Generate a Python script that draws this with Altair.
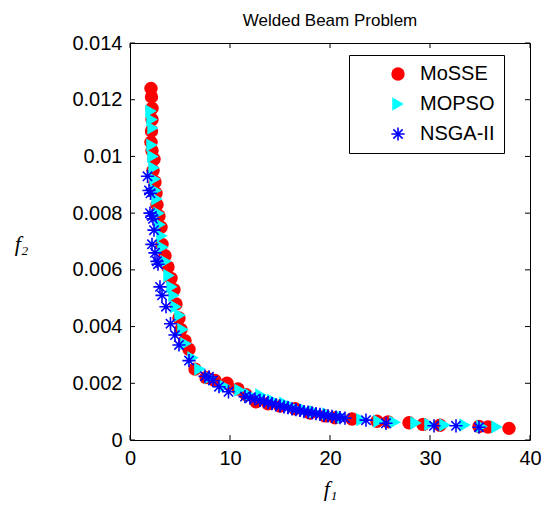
import altair as alt
import pandas as pd

methods = ["MoSSE", "MOPSO", "NSGA-II"]
colors = ["#FF0000", "#00FFFF", "#0000FF"]

mosse_f1 = [2.1, 2.15, 2.2, 2.2, 2.15, 2.1, 2.2, 2.4, 2.3, 2.5, 2.6, 2.7, 2.9, 3.1, 3.2, 3.5, 3.8, 4.1,
            4.4, 4.6, 4.9, 5.1, 5.5, 5.9, 6.5, 7.6, 8.5, 9.7, 10.8, 11.6, 12.6, 13.8, 15.0, 16.5, 18.0,
            19.5, 20.5, 22.2, 24.7, 25.8, 27.9, 29.3, 31.0, 34.9, 35.8, 37.9]
mosse_f2 = [0.0124, 0.0121, 0.0117, 0.0113, 0.0109, 0.0105, 0.0102, 0.0099, 0.0095, 0.0091, 0.0087,
            0.0083, 0.0079, 0.0075, 0.0069, 0.0065, 0.0061, 0.0057, 0.0053, 0.0048, 0.0043, 0.0039,
            0.0035, 0.0032, 0.0025, 0.0022, 0.0021, 0.0020, 0.0018, 0.0016, 0.00135, 0.00128, 0.0012,
            0.0011, 0.00095, 0.00085, 0.00078, 0.00074, 0.00066, 0.00064, 0.00061, 0.00055, 0.00052,
            0.00048, 0.00046, 0.00041]

mopso_f1 = [2.1, 2.2, 2.3, 2.2, 2.3, 2.4, 2.5, 2.6, 2.7, 2.9, 3.0, 3.2, 3.3, 3.6, 3.9, 4.2, 4.4, 4.6,
            5.0, 5.3, 5.6, 6.3, 7.0, 8.0, 9.5, 11.0, 12.0, 13.1, 14.3, 15.5, 16.3, 17.5, 18.5, 19.8,
            21.3, 23.2, 24.9, 26.5, 28.6, 30.0, 31.5, 33.5, 35.2, 36.7]
mopso_f2 = [0.0116, 0.0113, 0.0110, 0.0104, 0.0100, 0.0096, 0.0092, 0.0088, 0.0085, 0.0080, 0.0076,
            0.0072, 0.0068, 0.0063, 0.0058, 0.0054, 0.0051, 0.0047, 0.0044, 0.0039, 0.0034, 0.0029,
            0.0025, 0.0022, 0.0019, 0.00176, 0.0016, 0.00159, 0.0014, 0.0013, 0.00117, 0.00107, 0.0010,
            0.00092, 0.0008, 0.00072, 0.00066, 0.00063, 0.0006, 0.00055, 0.00053, 0.00053, 0.00048,
            0.00046]

nsga_f1 = [1.75, 1.9, 2.05, 2.0, 2.2, 2.3, 2.4, 2.2, 2.5, 2.7, 2.8, 3.0, 3.2, 3.6, 4.05, 4.5, 4.9, 5.9,
           7.5, 7.9, 8.3, 8.9, 9.85, 11.5, 12.0, 12.5, 13.0, 13.4, 13.8, 14.2, 14.6, 15.0, 15.4, 15.8,
           16.2, 16.6, 17.0, 17.4, 17.8, 18.2, 18.6, 19.0, 19.4, 19.8, 20.2, 20.6, 21.0, 21.5, 23.6,
           25.6, 30.4, 32.6, 34.9]
nsga_f2 = [0.0093, 0.0088, 0.0087, 0.0080, 0.0079, 0.0078, 0.0074, 0.0069, 0.0066, 0.0063, 0.0062,
           0.0054, 0.0051, 0.0047, 0.0041, 0.0037, 0.00335, 0.0028, 0.00225, 0.00223, 0.0021, 0.00188,
           0.0017, 0.00153, 0.00148, 0.00145, 0.0014, 0.00137, 0.00132, 0.00128, 0.00124, 0.0012,
           0.00117, 0.00114, 0.0011, 0.00107, 0.00104, 0.0010, 0.00098, 0.00096, 0.00093, 0.0009,
           0.00087, 0.00085, 0.00083, 0.00081, 0.00079, 0.00077, 0.0007, 0.00059, 0.0005, 0.0005,
           0.00045]

x_ticks = [0, 10, 20, 30, 40]
y_ticks = [0, 0.002, 0.004, 0.006, 0.008, 0.01, 0.012, 0.014]

rows = []
for name, xs, ys in [("MoSSE", mosse_f1, mosse_f2), ("MOPSO", mopso_f1, mopso_f2),
                     ("NSGA-II", nsga_f1, nsga_f2)]:
    for a, b in zip(xs, ys):
        rows.append({"method": name, "f1": a, "f2": b})
df = pd.DataFrame(rows)

W, H = 400, 397
TL = 5

ASTER = ("M-1,-0.12L1,-0.12L1,0.12L-1,0.12Z"
         "M-0.12,-1L0.12,-1L0.12,1L-0.12,1Z"
         "M-0.622,-0.792L0.792,0.622L0.622,0.792L-0.792,-0.622Z"
         "M-0.792,0.622L0.622,-0.792L0.792,-0.622L-0.622,0.792Z")

xscale = alt.Scale(domain=[0, 40], nice=False, zero=False)
yscale = alt.Scale(domain=[0, 0.014], nice=False, zero=False)

pad_sp = "\u00a0" * 12
leg = alt.Legend(orient="none", legendX=219, legendY=12, title=None,
                 labelExpr="datum.label + '" + pad_sp + "'")

points = alt.Chart(df).mark_point(filled=True, opacity=1, strokeWidth=0).encode(
    x=alt.X("f1:Q", scale=xscale,
            axis=alt.Axis(values=x_ticks, title="f\u2081", titlePadding=10, labelPadding=8,
                          labelFlush=False)),
    y=alt.Y("f2:Q", scale=yscale,
            axis=alt.Axis(values=y_ticks, format="~g", title="f\u2082", titleAngle=0,
                          titleX=-109, titleY=200, titleAlign="center", titleBaseline="middle",
                          labelPadding=8, labelFlush=False)),
    color=alt.Color("method:N", scale=alt.Scale(domain=methods, range=colors), legend=leg),
    shape=alt.Shape("method:N", scale=alt.Scale(domain=methods,
                                                range=["circle", "triangle-right", ASTER]), legend=leg),
    size=alt.Size("method:N", scale=alt.Scale(domain=methods, range=[180, 175, 150]), legend=None),
)

xt_df = pd.DataFrame({"f1": x_ticks})
yt_df = pd.DataFrame({"f2": y_ticks})

xt_bottom = alt.Chart(xt_df).mark_rule(color="black", strokeWidth=1).encode(
    x=alt.X("f1:Q", scale=xscale), y=alt.value(H), y2=alt.value(H - TL))
xt_top = alt.Chart(xt_df).mark_rule(color="black", strokeWidth=1).encode(
    x=alt.X("f1:Q", scale=xscale), y=alt.value(0), y2=alt.value(TL))
yt_left = alt.Chart(yt_df).mark_rule(color="black", strokeWidth=1).encode(
    y=alt.Y("f2:Q", scale=yscale), x=alt.value(0), x2=alt.value(TL))
yt_right = alt.Chart(yt_df).mark_rule(color="black", strokeWidth=1).encode(
    y=alt.Y("f2:Q", scale=yscale), x=alt.value(W), x2=alt.value(W - TL))

chart = alt.layer(points, xt_bottom, xt_top, yt_left, yt_right).properties(
    width=W, height=H,
    title=alt.TitleParams("Welded Beam Problem", font="Liberation Sans", fontSize=17,
                          fontWeight="normal", color="black", offset=3, frame="group",
                          anchor="middle"),
    autosize=alt.AutoSizeParams(type="none"),
    padding={"left": 122, "top": 35, "right": 11, "bottom": 66},
).configure_view(
    stroke="black", strokeWidth=1
).configure_axis(
    domain=False, ticks=False, grid=False,
    labelFont="Liberation Sans", labelFontSize=20, labelColor="black",
    titleFont="Liberation Serif", titleFontSize=22, titleFontStyle="italic",
    titleFontWeight="normal", titleColor="black",
).configure_legend(
    strokeColor="black", fillColor="white", padding=9, cornerRadius=0,
    labelFont="Liberation Sans", labelFontSize=20, labelColor="black",
    symbolSize=175, rowPadding=10, symbolOffset=30, labelOffset=12,
    symbolStrokeWidth=0,
)

chart.save("out.html", embed_options={"renderer": "svg", "actions": False})
